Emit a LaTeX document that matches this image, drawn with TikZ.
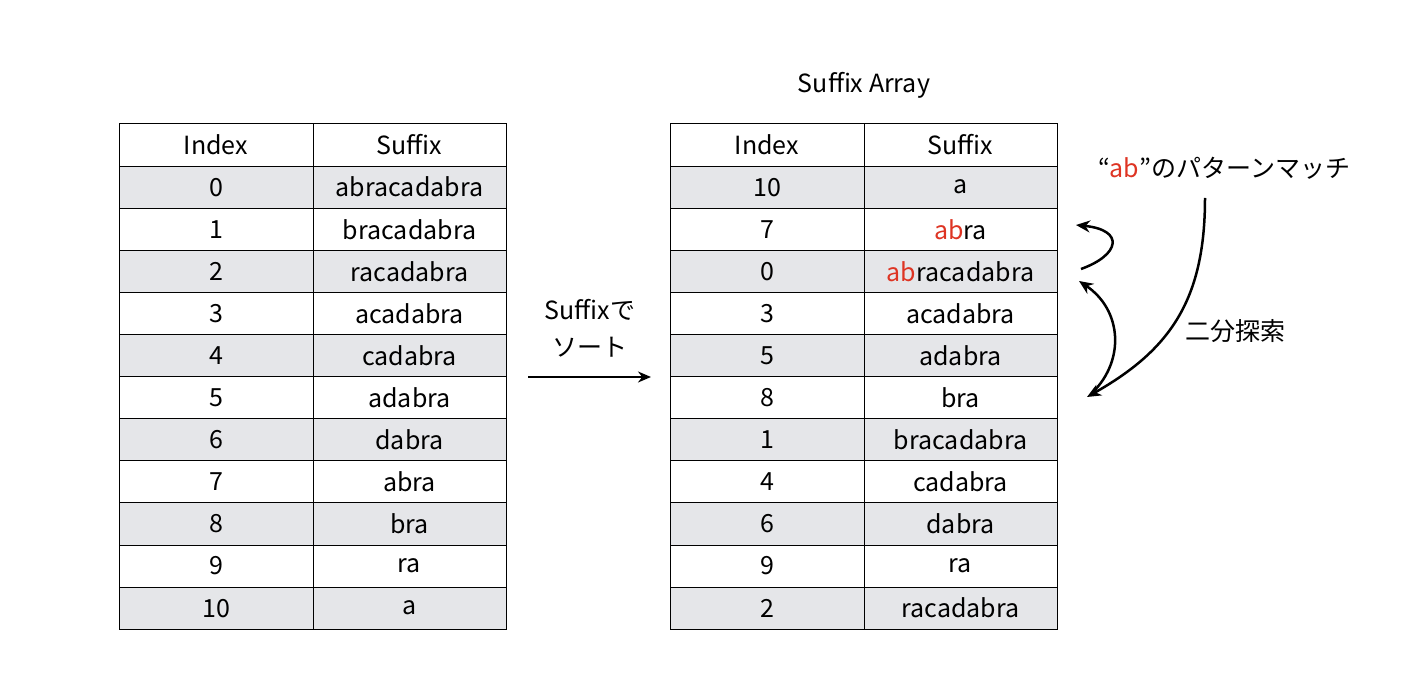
\documentclass[tikz,border=0pt]{standalone}
\usepackage{fontspec}
\setmainfont{Noto Sans CJK JP}
\usepackage{tikz}
\usetikzlibrary{positioning,arrows.meta}
\definecolor{rowgray}{RGB}{229,230,233}
\definecolor{abred}{RGB}{222,52,35}
\tikzset{
	txt/.style={font=\fontsize{25}{37}\selectfont},
	cell/.style={txt,draw,line width=1pt,inner sep=0pt,minimum height=42.1pt},
	idxcell/.style={cell,minimum width=194pt},
	sufcell/.style={cell,minimum width=193pt},
	arr/.style={line width=2.5pt,-{Stealth[length=14pt,width=12pt]}}
}
\newcommand{\ab}{\textcolor{abred}{ab}}
\begin{document}
\begin{tikzpicture}[x=1pt,y=-1pt]
	\useasboundingbox (0,0) rectangle (1414,692);
	% left table
	\foreach \i/\s [count=\r from 0] in {Index/Suffix,0/abracadabra,1/bracadabra,2/racadabra,3/acadabra,4/cadabra,5/adabra,6/dabra,7/abra,8/bra,9/ra,10/a}{
		\ifodd\r \def\rowfill{rowgray}\else\def\rowfill{white}\fi
		\node[idxcell,fill=\rowfill] (li\r) at (216,{124+42.1*(\r+0.5)}) {\i};
		\node[sufcell,fill=\rowfill,right=-1pt of li\r] (ls\r) {\s};
	}
	% right table
	\foreach \i/\s [count=\r from 0] in {Index/Suffix,10/a,7/\ab ra,0/\ab racadabra,3/acadabra,5/adabra,8/bra,1/bracadabra,4/cadabra,6/dabra,9/ra,2/racadabra}{
		\ifodd\r \def\rowfill{rowgray}\else\def\rowfill{white}\fi
		\node[idxcell,fill=\rowfill] (ri\r) at (767,{124+42.1*(\r+0.5)}) {\i};
		\node[sufcell,fill=\rowfill,right=-1pt of ri\r] (rs\r) {\s};
	}
	\node[txt] (title) at (864,85) {Suffix Array};
	% sort
	\node[txt,align=center] (sorttxt) at (590,328) {Suffixで\\ソート};
	\coordinate (sortl) at (528,377);
	\coordinate (sortr) at (651,377);
	\draw[line width=2.5pt,-{Stealth[length=13pt,width=11pt]}] (sortl) -- (sortr);
	% binary search
	\node[txt] (match) at (1224,168) {“\textcolor{abred}{ab}”のパターンマッチ};
	\node[txt] (bsearch) at (1235,331) {二分探索};
	\coordinate (p0) at (1205,198);
	\coordinate (p1) at (1087,397);
	\coordinate (p2) at (1079,281);
	\coordinate (p3) at (1081,269);
	\coordinate (p4) at (1076,225);
	\draw[arr] (p0) .. controls (1205,300) and (1170,350) .. (p1);
	\draw[arr] (1093,392) .. controls (1125,360) and (1122,310) .. (p2);
	\draw[arr] (p3) .. controls (1120,255) and (1125,230) .. (p4);
\end{tikzpicture}
\end{document}
